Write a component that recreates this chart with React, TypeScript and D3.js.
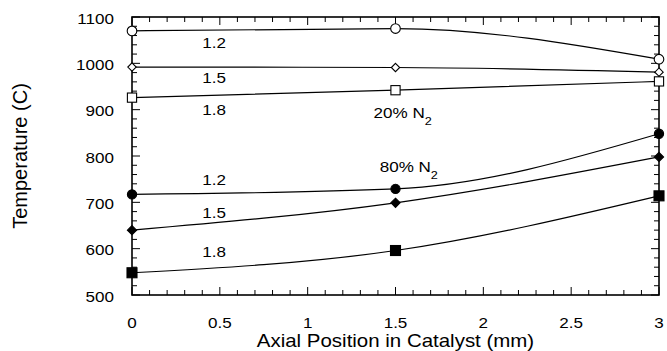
import * as d3 from "d3";

// axial positions where temperatures were measured (mm)
const positions = [0, 1.5, 3];

// 20% N2 runs
const n20_12 = [1070, 1075, 1009];
const n20_15 = [992, 991, 981];
const n20_18 = [926, 942, 961];

// 80% N2 runs
const n80_12 = [717, 729, 848];
const n80_15 = [640, 699, 798];
const n80_18 = [548, 596, 714];

const xTicks = [0, 0.5, 1, 1.5, 2, 2.5, 3];
const yTicks = [500, 600, 700, 800, 900, 1000, 1100];

// curve labels: [text, x (mm), temperature]
const ratioLabels: [string, number, number][] = [
  ["1.2", 0.4, 1034],
  ["1.5", 0.4, 957],
  ["1.8", 0.4, 888],
  ["1.2", 0.4, 737],
  ["1.5", 0.4, 666],
  ["1.8", 0.4, 582],
];
const groupLabels: [string, number, number][] = [
  ["20%", 1.375, 882],
  ["80%", 1.41, 765],
];

type Marker = "circle" | "diamond" | "square";
const series: { values: number[]; marker: Marker; filled: boolean }[] = [
  { values: n20_12, marker: "circle", filled: false },
  { values: n20_15, marker: "diamond", filled: false },
  { values: n20_18, marker: "square", filled: false },
  { values: n80_12, marker: "circle", filled: true },
  { values: n80_15, marker: "diamond", filled: true },
  { values: n80_18, marker: "square", filled: true },
];

const W = 667;
const H = 351;
const margin = { top: 17, right: 7, bottom: 56, left: 132 };
const FONT = "'Liberation Sans', Arial, Helvetica, sans-serif";
const SX = 1.1; // the scan is a little wider than tall

function Label({ x, y, anchor = "start", size, children }: any) {
  return (
    <text
      transform={`translate(${x},${y}) scale(${SX},1)`}
      textAnchor={anchor}
      fontFamily={FONT}
      fontSize={size}
      fill="#000"
    >
      {children}
    </text>
  );
}

function MarkerShape({ cx, cy, marker, filled }: { cx: number; cy: number; marker: Marker; filled: boolean }) {
  const fill = filled ? "#000" : "#fff";
  const sw = 1.1;
  if (marker === "circle") {
    const r = filled ? 4.6 : 4.8;
    return <circle cx={cx} cy={cy} r={r} fill={fill} stroke="#000" strokeWidth={sw} />;
  }
  if (marker === "diamond") {
    const s = filled ? 4.6 : 4.2;
    return (
      <path
        d={`M${cx},${cy - s}L${cx + s},${cy}L${cx},${cy + s}L${cx - s},${cy}Z`}
        fill={fill}
        stroke="#000"
        strokeWidth={sw}
      />
    );
  }
  const h = filled ? 5 : 4.6;
  return <rect x={cx - h} y={cy - h} width={h * 2} height={h * 2} fill={fill} stroke="#000" strokeWidth={sw} />;
}

export default function App() {
  const x0 = margin.left;
  const x1 = W - margin.right - 1;
  const y0 = H - margin.bottom;
  const y1 = margin.top;

  const x = d3.scaleLinear().domain([0, 3]).range([x0, x1]);
  const y = d3.scaleLinear().domain([500, 1100]).range([y0, y1]);

  const line = d3
    .line<number>()
    .x((_, i) => x(positions[i]))
    .y((d) => y(d))
    .curve(d3.curveMonotoneX);

  const xMinor = d3.range(0, 3.0001, 0.1);
  const yMinor = d3.range(500, 1100.001, 20);
  const isMajorX = (v: number) => Math.abs(v * 2 - Math.round(v * 2)) < 1e-6;
  const isMajorY = (v: number) => Math.abs(v % 100) < 1e-6;

  return (
    <svg width={W} height={H} style={{ position: "absolute", left: 0, top: 0, background: "#fff" }}>
      <g stroke="#000" strokeWidth={1}>
        {/* top / bottom ticks */}
        {xMinor.map((v, i) => {
          const len = isMajorX(v) ? 8 : 5;
          return (
            <g key={"xt" + i}>
              <line x1={x(v)} x2={x(v)} y1={y0} y2={y0 - len} />
              <line x1={x(v)} x2={x(v)} y1={y1} y2={y1 + len} />
            </g>
          );
        })}
        {/* left / right ticks */}
        {yMinor.map((v, i) => {
          const len = isMajorY(v) ? 8 : 5;
          return (
            <g key={"yt" + i}>
              <line x1={x0} x2={x0 + len} y1={y(v)} y2={y(v)} />
              <line x1={x1} x2={x1 - len} y1={y(v)} y2={y(v)} />
            </g>
          );
        })}
      </g>

      {/* frame */}
      <rect x={x0} y={y1} width={x1 - x0} height={y0 - y1} fill="none" stroke="#000" strokeWidth={1.6} />

      {/* curves */}
      {series.map((s, i) => (
        <path key={"l" + i} d={line(s.values) || ""} fill="none" stroke="#000" strokeWidth={1.2} />
      ))}

      {/* markers */}
      {series.map((s, i) =>
        s.values.map((v, j) => (
          <MarkerShape key={`m${i}-${j}`} cx={x(positions[j])} cy={y(v)} marker={s.marker} filled={s.filled} />
        )),
      )}

      {/* tick labels */}
      {yTicks.map((v) => (
        <Label key={"yl" + v} x={x0 - 18} y={y(v) + 6.5} anchor="end" size={15.5}>
          {v}
        </Label>
      ))}
      {xTicks.map((v) => (
        <Label key={"xl" + v} x={x(v)} y={y0 + 33} anchor="middle" size={15.5}>
          {v}
        </Label>
      ))}

      {/* annotations */}
      {ratioLabels.map(([t, lx, ly], i) => (
        <Label key={"rl" + i} x={x(lx)} y={y(ly)} size={15.5}>
          {t}
        </Label>
      ))}
      {groupLabels.map(([t, lx, ly], i) => (
        <Label key={"gl" + i} x={x(lx)} y={y(ly)} size={15.5}>
          {t} N
          <tspan fontSize={11.5} dy={7}>
            2
          </tspan>
        </Label>
      ))}

      {/* axis titles */}
      <Label x={(x0 + x1) / 2} y={347} anchor="middle" size={18.6}>
        Axial Position in Catalyst (mm)
      </Label>
      <text
        transform={`translate(27,${(y0 + y1) / 2}) rotate(-90)`}
        textAnchor="middle"
        fontFamily={FONT}
        fontSize={20}
      >
        Temperature (C)
      </text>
    </svg>
  );
}
